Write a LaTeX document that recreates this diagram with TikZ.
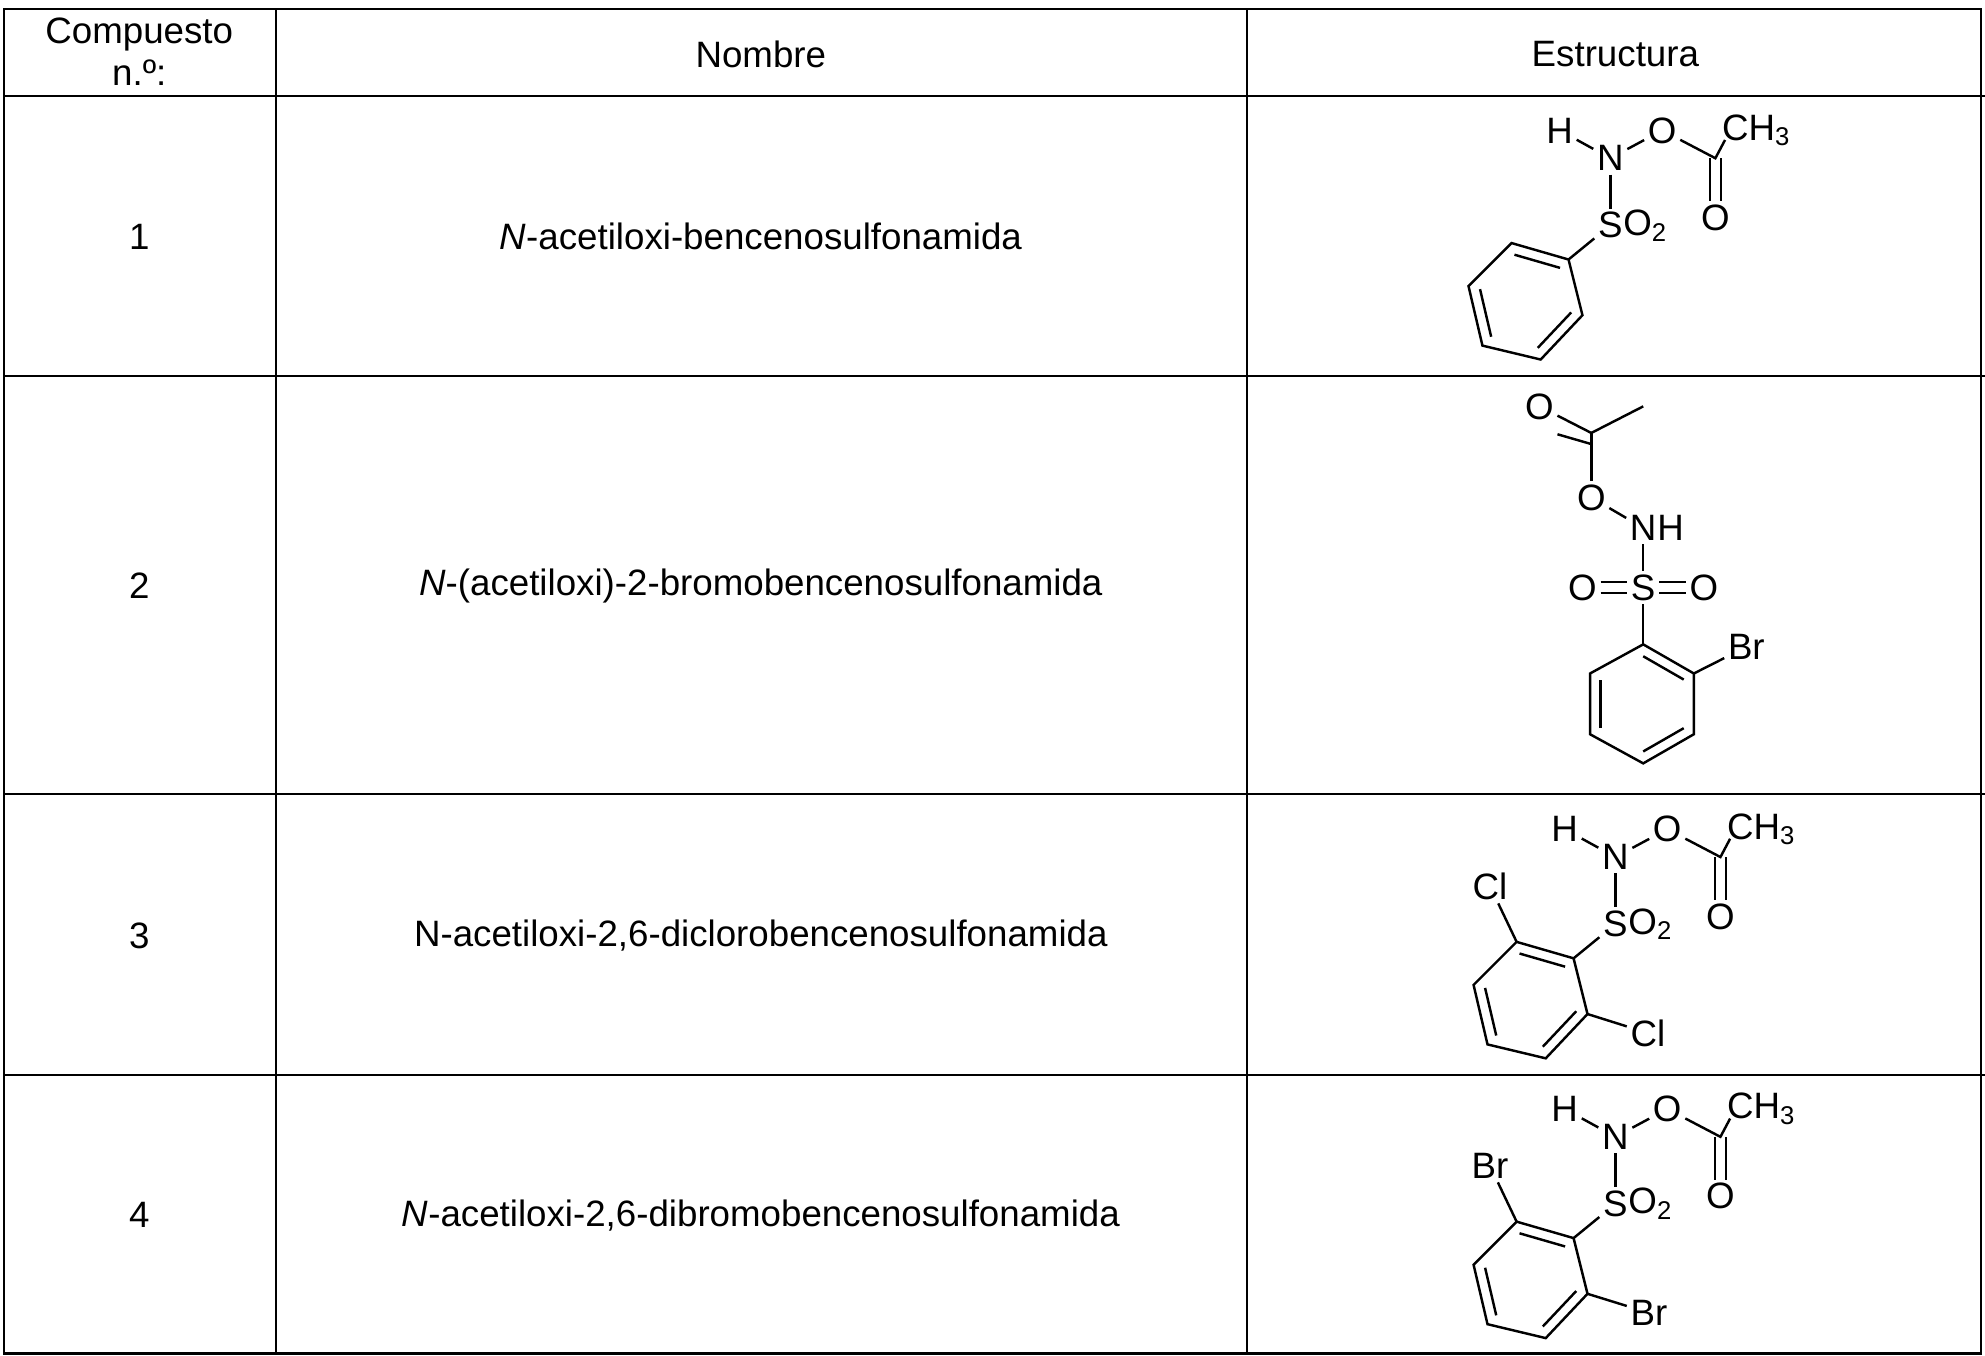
\documentclass[tikz,border=0pt]{standalone}
\usepackage{fontspec}
\setmainfont{Liberation Sans}
\usetikzlibrary{calc}

\tikzset{
  atom/.style={inner sep=1.5pt, font=\fontsize{16.5}{18}\selectfont},
  bond/.style={line width=1.1pt},
  grid/.style={line width=1.1pt},
  cell/.style={font=\fontsize{16.5}{17}\selectfont, align=center}
}

% benzene ring from six named corners, inner lines on three edges
\newcommand{\benzring}[7]{%
  \draw[bond] (#1) -- (#2) -- (#3) -- (#4) -- (#5) -- (#6) -- cycle;
  \coordinate (#7) at ($(#1)!0.5!(#4)$);
  \draw[bond] ($(#1)!0.2!(#7)$) -- ($(#2)!0.2!(#7)$);
  \draw[bond] ($(#3)!0.2!(#7)$) -- ($(#4)!0.2!(#7)$);
  \draw[bond] ($(#5)!0.2!(#7)$) -- ($(#6)!0.2!(#7)$);
}

% N-acetyloxy sulfonamide head with phenyl ring, shifted by (#1,#2), prefix #3
\newcommand{\sulfamide}[3]{%
  \begin{scope}[shift={(#1,#2)}]
    \node[atom] (#3H) at (1232,103) {H};
    \node[atom] (#3N) at (1272,125) {N};
    \node[atom] (#3O) at (1313,103) {O};
    \node[atom, anchor=west, inner sep=0pt] (#3Me) at (1360,103) {CH\textsubscript{3}};
    \coordinate (#3C) at (1355,125);
    \node[atom] (#3Ok) at (1355,172) {O};
    \node[atom] (#3S) at (1272,178) {S};
    \node[atom, anchor=west, inner sep=0pt] (#3Os) at ([xshift=-1.5pt]#3S.east) {O\textsubscript{2}};
    \coordinate (#3r1) at (1194,192);
    \coordinate (#3r2) at (1239,205);
    \coordinate (#3r3) at (1250,249);
    \coordinate (#3r4) at (1217,284);
    \coordinate (#3r5) at (1171,273);
    \coordinate (#3r6) at (1160,226);
    \draw[bond] (#3H) -- (#3N);
    \draw[bond] (#3N) -- (#3O);
    \draw[bond] (#3O) -- (#3C) -- ([shift={(1.5pt,3pt)}]#3Me.south west);
    \draw[bond] ([xshift=-2.5]#3C) -- ([xshift=-2.5]#3Ok.north);
    \draw[bond] ([xshift=2.5]#3C) -- ([xshift=2.5]#3Ok.north);
    \draw[bond] (#3N) -- (#3S);
    \draw[bond] (#3S) -- (#3r2);
    \benzring{#3r1}{#3r2}{#3r3}{#3r4}{#3r5}{#3r6}{#3c}
  \end{scope}
}

\begin{document}
\begin{tikzpicture}[x=0.02cm, y=-0.02cm]
  \useasboundingbox (0,0) rectangle (1568,1071);

  % table grid
  \draw[grid] (3,7) rectangle (1565,1069);
  \foreach \yy in {76,297,627,849}
    \draw[grid] (3,\yy) -- (1568,\yy);
  \draw[grid] (218,7) -- (218,1069);
  \draw[grid] (985,7) -- (985,1069);

  % header
  \node[cell, font=\fontsize{16.5}{19}\selectfont] (hnum) at (110,41) {Compuesto\\n.º:};
  \node[cell] (hname) at (601,43) {Nombre};
  \node[cell] (hstruct) at (1276,43) {Estructura};

  % numbers and names
  \node[cell] (n1) at (110,187) {1};
  \node[cell] (n2) at (110,463) {2};
  \node[cell] (n3) at (110,739) {3};
  \node[cell] (n4) at (110,960) {4};
  \node[cell] (name1) at (601,187) {\textit{N}-acetiloxi-bencenosulfonamida};
  \node[cell] (name2) at (601,463) {\textit{N}-(acetiloxi)-2-bromobencenosulfonamida};
  \node[cell] (name3) at (601,739) {N-acetiloxi-2,6-diclorobencenosulfonamida};
  \node[cell] (name4) at (601,960) {\textit{N}-acetiloxi-2,6-dibromobencenosulfonamida};

  % compound 1
  \sulfamide{0}{0}{a}

  % compound 2
  \node[atom] (bOt) at (1216,321) {O};
  \coordinate (bC) at (1257,342);
  \coordinate (bMe) at (1298,321);
  \node[atom] (bOe) at (1257,393) {O};
  \node[atom] (bN) at (1298,417) {N};
  \node[atom, anchor=west, inner sep=0pt] (bH) at ([xshift=-1.5pt]bN.east) {H};
  \node[atom] (bS) at (1298,464) {S};
  \node[atom] (bOl) at (1250,464) {O};
  \node[atom] (bOr) at (1346,464) {O};
  \coordinate (br1) at (1298,509);
  \coordinate (br2) at (1338,532);
  \coordinate (br3) at (1338,580);
  \coordinate (br4) at (1298,603);
  \coordinate (br5) at (1256,580);
  \coordinate (br6) at (1256,532);
  \node[atom, anchor=west] (bBr) at (1362,511) {Br};
  \draw[bond] (bC) -- (bMe);
  \draw[bond] (bOt) -- (bC);
  \draw[bond] ([yshift=-5]bOt.south east) -- ([yshift=-5]bC);
  \draw[bond] (bC) -- (bOe);
  \draw[bond] (bOe) -- (bN);
  \draw[bond] (bN) -- (bS);
  \draw[bond] ([yshift=-2.5]bOl.east) -- ([yshift=-2.5]bS.west);
  \draw[bond] ([yshift=2.5]bOl.east) -- ([yshift=2.5]bS.west);
  \draw[bond] ([yshift=-2.5]bS.east) -- ([yshift=-2.5]bOr.west);
  \draw[bond] ([yshift=2.5]bS.east) -- ([yshift=2.5]bOr.west);
  \draw[bond] (bS) -- (br1);
  \draw[bond] (br2) -- (bBr);
  \benzring{br1}{br2}{br3}{br4}{br5}{br6}{bc}

  % compound 3
  \sulfamide{4}{552}{c}
  \node[atom] (cCl1) at (1177,700) {Cl};
  \node[atom, anchor=west] (cCl2) at (1285,816) {Cl};
  \draw[bond] (cr1) -- (cCl1);
  \draw[bond] (cr3) -- (cCl2);

  % compound 4
  \sulfamide{4}{773}{d}
  \node[atom] (dBr1) at (1177,921) {Br};
  \node[atom, anchor=west] (dBr2) at (1285,1037) {Br};
  \draw[bond] (dr1) -- (dBr1);
  \draw[bond] (dr3) -- (dBr2);
\end{tikzpicture}
\end{document}
